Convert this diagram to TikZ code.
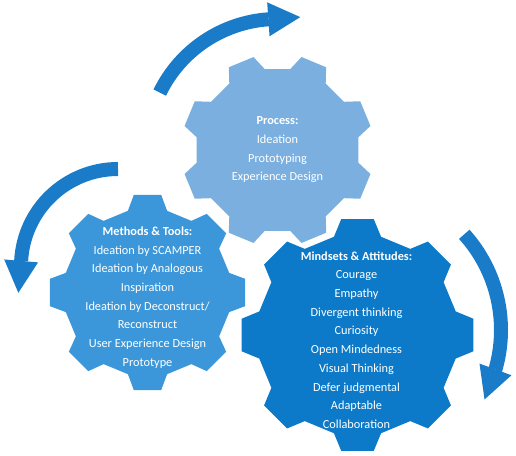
\documentclass[tikz,border=0pt]{standalone}
\usepackage{fontspec}
\setmainfont{Carlito}
\usepackage{tikz}
\usetikzlibrary{arrows.meta,calc}
\definecolor{gearLight}{HTML}{7AAFDF}
\definecolor{gearMid}{HTML}{3B97D9}
\definecolor{gearDark}{HTML}{0C7AC8}
\definecolor{flowBlue}{HTML}{1A7CC9}
% gear outline: colour, centre, root radius, tip radius, angle of first tooth
\newcommand{\gearshape}[5]{%
  \fill[#1,shift={(#2)}] ({#5-13.5}:#3)
    \foreach \k in {0,...,7}{
      -- ({#5+45*\k-13.5}:#3) -- ({#5+45*\k-8}:#4)
      -- ({#5+45*\k+8}:#4) -- ({#5+45*\k+13.5}:#3)}
    -- cycle;}

\begin{document}
\begin{tikzpicture}[
    x=1pt,y=1pt,
    every node/.style={font=\fontsize{12.3}{18.7}\selectfont},
    gtext/.style={text=white,align=center,inner sep=0pt},
    flow/.style={draw=flowBlue,line width=14pt,
                 -{Triangle[length=32pt,width=34pt,line width=0pt]}}
  ]
  \useasboundingbox (0,0) rectangle (516,455);
  %% centres of the gears and of the turning arrows
  \coordinate (topC)   at (277.5,305);
  \coordinate (leftC)  at (147.5,162.5);
  \coordinate (rightC) at (357.5,120);
  \coordinate (lpivot) at (118,189);
  \coordinate (rpivot) at (358,125);
  %% the three gears, back to front
  \gearshape{gearLight}{topC}{82}{96}{22.5}
  \gearshape{gearMid}{leftC}{84}{98.5}{0}
  \gearshape{gearDark}{rightC}{101}{117}{0}
  %% texts on the gears
  \node[gtext] (proc) at (topC)
        {\textbf{Process:}\\Ideation\\Prototyping\\Experience Design};
  \node[gtext] (tools) at ($(leftC)+(0,-5)$)
        {\textbf{Methods \& Tools:}\\Ideation by SCAMPER\\Ideation by Analogous\\
         Inspiration\\Ideation by Deconstruct/\\Reconstruct\\User Experience Design\\Prototype};
  \node[gtext] (minds) at ($(rightC)+(-1,-5)$)
        {\textbf{Mindsets \& Attitudes:}\\Courage\\Empathy\\Divergent thinking\\Curiosity\\
         Open Mindedness\\Visual Thinking\\Defer judgmental\\Adaptable\\Collaboration};
  %% turning arrows
  \draw[flow] ($(topC)+(154:131)$) arc[start angle=154,end angle=94,radius=131] -- ++(4:32);
  \draw[flow] ($(lpivot)+(90:97)$) arc[start angle=90,end angle=177,radius=97] -- ++(265:32);
  \draw[flow] ($(rpivot)+(42:143)$) arc[start angle=42,end angle=-16,radius=143] -- ++(-110:32);
\end{tikzpicture}
\end{document}
